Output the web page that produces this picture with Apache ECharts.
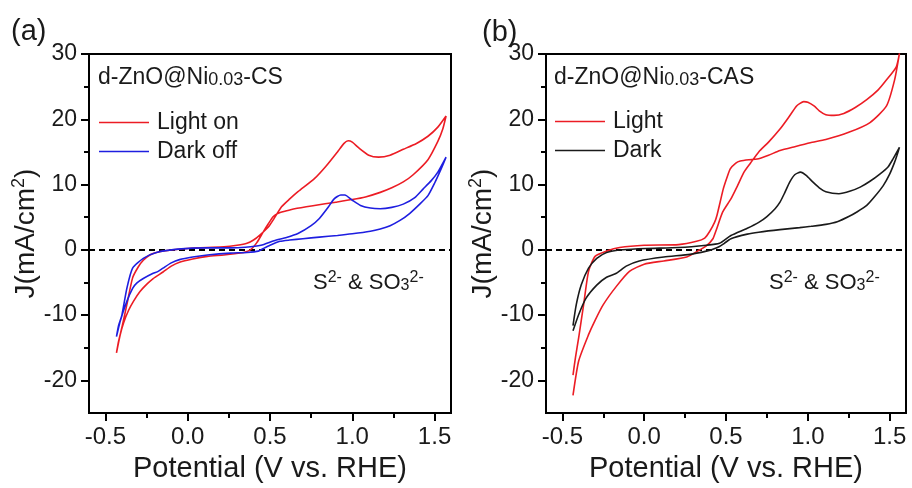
<!DOCTYPE html>
<html>
<head>
<meta charset="utf-8">
<script src="https://cdn.jsdelivr.net/npm/echarts@6/dist/echarts.min.js"></script>
<style>
  html, body { margin: 0; padding: 0; background: #fff; }
  #chart { width: 912px; height: 488px; }
</style>
</head>
<body>
<div id="chart"></div>
<script>
// Cyclic voltammograms: potential (V vs. RHE) and current density J (mA/cm2)

// (a) d-ZnO@Ni0.03-CS, light on
const aLightV = [-0.433,-0.42,-0.40,-0.37,-0.335,-0.30,-0.27,-0.23,-0.19,-0.09,0.0,0.12,0.22,0.30,0.36,0.40,0.44,0.49,0.53,0.57,0.62,0.67,0.77,0.84,0.91,0.95,0.975,1.0,1.04,1.10,1.16,1.23,1.31,1.39,1.46,1.52,1.57,
  1.55,1.52,1.46,1.37,1.31,1.24,1.17,1.08,1.0,0.90,0.77,0.65,0.59,0.55,0.52,0.49,0.46,0.42,0.38,0.32,0.22,0.12,0.03,-0.05,-0.10,-0.15,-0.21,-0.25,-0.29,-0.33,-0.36,-0.39,-0.41,-0.433];
const aLightJ = [-15.8,-14.0,-11.9,-8.4,-4.3,-2.6,-1.6,-0.8,-0.4,0.0,0.2,0.35,0.45,0.7,1.0,1.5,2.3,3.5,5.0,6.6,7.8,8.9,10.9,12.8,15.0,16.3,16.7,16.5,15.6,14.5,14.2,14.5,15.4,16.3,17.4,18.8,20.5,
  18.5,16.6,13.8,11.5,10.4,9.5,8.8,8.1,7.7,7.3,6.8,6.3,5.9,5.6,5.1,4.0,2.8,1.1,0.0,-0.5,-0.8,-1.0,-1.4,-1.9,-2.5,-3.4,-4.4,-5.3,-6.4,-7.9,-9.3,-11.2,-13.0,-15.8];

// (a) d-ZnO@Ni0.03-CS, dark
const aDarkV = [-0.433,-0.42,-0.40,-0.37,-0.335,-0.27,-0.19,-0.06,0.12,0.26,0.35,0.445,0.525,0.60,0.67,0.75,0.80,0.85,0.89,0.93,0.955,1.0,1.05,1.11,1.17,1.24,1.31,1.38,1.43,1.48,1.52,1.57,
  1.54,1.50,1.46,1.41,1.35,1.29,1.23,1.17,1.11,1.0,0.91,0.80,0.70,0.62,0.56,0.50,0.46,0.43,0.36,0.26,0.12,0.03,-0.05,-0.10,-0.15,-0.18,-0.21,-0.27,-0.31,-0.335,-0.37,-0.41,-0.433];
const aDarkJ = [-13.3,-11.6,-10.0,-5.9,-2.8,-1.3,-0.4,0.1,0.3,0.3,0.4,0.7,1.4,1.9,2.5,3.7,4.8,6.4,7.8,8.4,8.4,7.6,6.8,6.4,6.3,6.5,7.0,8.0,9.3,10.6,11.9,14.2,
  12.4,10.2,8.3,7.0,5.6,4.5,3.7,3.2,2.85,2.45,2.2,1.95,1.7,1.5,1.3,0.7,0.2,-0.2,-0.4,-0.5,-0.8,-1.1,-1.5,-2.0,-2.8,-3.3,-3.6,-4.4,-5.1,-5.9,-7.9,-10.9,-13.3];

// (b) d-ZnO@Ni0.03-CAS, light
const bLightV = [-0.435,-0.42,-0.40,-0.37,-0.34,-0.30,-0.23,-0.15,0.0,0.21,0.32,0.37,0.40,0.43,0.445,0.465,0.483,0.505,0.526,0.56,0.587,0.64,0.69,0.76,0.83,0.92,1.015,1.11,1.25,1.38,1.48,1.53,1.56,
  1.54,1.48,1.43,1.36,1.29,1.22,1.16,1.11,1.07,1.04,1.0,0.975,0.95,0.93,0.88,0.83,0.76,0.70,0.65,0.61,0.57,0.53,0.48,0.44,0.42,0.38,0.34,0.26,0.12,0.0,-0.09,-0.17,-0.25,-0.30,-0.34,-0.40,-0.435];
const bLightJ = [-19.2,-16.5,-13.4,-8.4,-3.3,-1.0,-0.2,0.35,0.7,0.8,1.3,1.8,2.8,4.2,5.3,7.4,9.3,11.0,12.4,13.3,13.6,13.8,13.9,14.5,15.2,15.8,16.4,16.9,18.0,19.5,22.0,26.0,30.1,
  28.0,26.0,24.5,23.0,21.8,20.9,20.6,20.7,21.3,22.0,22.6,22.7,22.4,22.0,20.2,18.5,16.5,15.0,13.3,11.9,9.8,7.8,5.8,3.0,1.7,0.6,0.0,-1.1,-1.7,-2.2,-3.3,-5.6,-8.4,-10.8,-13.0,-17.0,-22.3];

// (b) d-ZnO@Ni0.03-CAS, dark
const bDarkV = [-0.435,-0.415,-0.385,-0.34,-0.29,-0.23,-0.13,0.01,0.21,0.38,0.46,0.53,0.63,0.70,0.75,0.80,0.83,0.86,0.89,0.92,0.955,0.99,1.03,1.07,1.11,1.19,1.26,1.32,1.38,1.44,1.49,1.52,1.56,
  1.545,1.53,1.50,1.46,1.41,1.36,1.30,1.25,1.18,1.11,1.02,0.95,0.83,0.70,0.63,0.53,0.49,0.46,0.42,0.38,0.28,0.12,-0.03,-0.11,-0.17,-0.23,-0.29,-0.355,-0.40,-0.435];
const bDarkJ = [-11.6,-8.4,-5.4,-2.8,-1.3,-0.4,0.0,0.2,0.35,0.7,1.0,2.2,3.3,4.2,5.1,6.3,7.3,8.8,10.4,11.5,11.9,11.4,10.4,9.5,8.9,8.6,9.0,9.6,10.5,11.6,12.7,13.9,15.7,
  14.5,13.4,11.6,9.8,8.2,6.8,5.8,5.1,4.3,3.9,3.6,3.4,3.1,2.7,2.4,1.7,1.0,0.5,0.1,-0.2,-0.7,-1.1,-1.7,-2.5,-3.6,-4.2,-5.4,-7.4,-9.9,-12.4];

// Axis ticks
const xMajorTicks = [-0.5, 0.0, 0.5, 1.0, 1.5];
const xMinorTicks = [-0.25, 0.25, 0.75, 1.25];
const yMajorTicks = [-20, -10, 0, 10, 20, 30];
const yMinorTicks = [-15, -5, 5, 15, 25];

const seriesNamesA = ['Light on', 'Dark off'];
const seriesNamesB = ['Light', 'Dark'];

const FONT = 'Liberation Sans, Arial, Helvetica, sans-serif';
const INK = '#1a1a1a';
const RED = '#ec1c24';
const BLUE = '#1e1ee0';
const BLACK = '#1a1a1a';

function zip(v, j) { return v.map((x, i) => [x, j[i]]); }

const grids = [
  { left: 89, top: 54, width: 362, height: 361 },
  { left: 546, top: 54, width: 360, height: 361 }
];

function xAxesFor(gi) {
  return [
    {
      type: 'value', gridIndex: gi, position: 'bottom', min: -0.6, max: 1.6,
      name: 'Potential (V vs. RHE)', nameLocation: 'middle', nameGap: 41,
      nameTextStyle: { fontFamily: FONT, fontSize: 29, color: INK },
      axisLine: { show: true, onZero: false, lineStyle: { color: '#000', width: 2 } },
      axisTick: { show: true, inside: false, length: 8, customValues: xMajorTicks, lineStyle: { color: '#000', width: 2 } },
      axisLabel: { show: true, margin: 12, customValues: xMajorTicks, fontFamily: FONT, fontSize: 24, color: INK,
        formatter: v => v.toFixed(1) },
      splitLine: { show: false }
    },
    {
      type: 'value', gridIndex: gi, position: 'bottom', min: -0.6, max: 1.6,
      axisLine: { show: false, onZero: false },
      axisTick: { show: true, inside: false, length: 5, customValues: xMinorTicks, lineStyle: { color: '#000', width: 2 } },
      axisLabel: { show: false },
      splitLine: { show: false }
    }
  ];
}

function yAxesFor(gi) {
  return [
    {
      type: 'value', gridIndex: gi, position: 'left', min: -25, max: 30,
      name: '{t|J(mA/cm}{s|2}{t|)}', nameLocation: 'middle', nameGap: 38,
      nameTextStyle: { fontFamily: FONT, fontSize: 28, color: INK,
        rich: {
          t: { fontFamily: FONT, fontSize: 28, color: INK, verticalAlign: 'bottom', lineHeight: 30 },
          s: { fontFamily: FONT, fontSize: 18, color: INK, verticalAlign: 'top', lineHeight: 30 }
        } },
      axisLine: { show: true, onZero: false, lineStyle: { color: '#000', width: 2 } },
      axisTick: { show: true, inside: false, length: 8, customValues: yMajorTicks, lineStyle: { color: '#000', width: 2 } },
      axisLabel: { show: true, margin: 12, customValues: yMajorTicks, fontFamily: FONT, fontSize: 23, color: INK },
      splitLine: { show: false }
    },
    {
      type: 'value', gridIndex: gi, position: 'left', min: -25, max: 30,
      axisLine: { show: false, onZero: false },
      axisTick: { show: true, inside: false, length: 5, customValues: yMinorTicks, lineStyle: { color: '#000', width: 2 } },
      axisLabel: { show: false },
      splitLine: { show: false }
    }
  ];
}

function curve(name, v, j, color, xi, yi, withZero) {
  const s = {
    name: name, type: 'line', xAxisIndex: xi, yAxisIndex: yi,
    data: zip(v, j), symbol: 'none', smooth: 0.2, clip: false,
    lineStyle: { color: color, width: 1.6 }, itemStyle: { color: color },
    z: 3
  };
  if (withZero) {
    s.markLine = {
      silent: true, symbol: 'none', label: { show: false },
      lineStyle: { color: '#000', width: 1.8, type: [6, 4] },
      data: [{ yAxis: 0 }], z: 2
    };
  }
  return s;
}

const chart = echarts.init(document.getElementById('chart'), null, { renderer: 'canvas' });

function legendAt(left, top, names) {
  return {
    left: left, top: top, data: names,
    orient: 'vertical', icon: 'rect', itemWidth: 50, itemHeight: 1.6, itemGap: 6,
    selectedMode: false, padding: 0,
    textStyle: { fontFamily: FONT, fontSize: 23, color: INK, padding: [0, 0, 0, 3] }
  };
}

const richAnno = {
  m: { fontFamily: FONT, fontSize: 23, fill: INK, verticalAlign: 'bottom', lineHeight: 26 },
  sub: { fontFamily: FONT, fontSize: 18, fill: INK, verticalAlign: 'bottom', lineHeight: 26 }
};
const richIon = {
  m: { fontFamily: FONT, fontSize: 22, fill: INK, verticalAlign: 'bottom', lineHeight: 24 },
  sup: { fontFamily: FONT, fontSize: 16, fill: INK, verticalAlign: 'top', lineHeight: 24 },
  sub: { fontFamily: FONT, fontSize: 16, fill: INK, verticalAlign: 'bottom', lineHeight: 22 }
};

function txt(x, y, text, rich) {
  return {
    type: 'text', left: x, top: y, z: 10, silent: true,
    style: { text: text, rich: rich, fill: INK, font: '22px ' + FONT }
  };
}

chart.setOption({
  animation: false,
  backgroundColor: '#fff',
  grid: grids.map(g => Object.assign({ show: true, borderColor: '#000', borderWidth: 2, backgroundColor: 'transparent', containLabel: false }, g)),
  xAxis: xAxesFor(0).concat(xAxesFor(1)),
  yAxis: yAxesFor(0).concat(yAxesFor(1)),
  legend: [
    legendAt(99, 111, seriesNamesA),
    legendAt(555, 110, seriesNamesB)
  ],
  series: [
    curve(seriesNamesA[0], aLightV, aLightJ, RED, 0, 0, true),
    curve(seriesNamesA[1], aDarkV, aDarkJ, BLUE, 0, 0, false),
    curve(seriesNamesB[0], bLightV, bLightJ, RED, 2, 2, true),
    curve(seriesNamesB[1], bDarkV, bDarkJ, BLACK, 2, 2, false)
  ],
  graphic: [
    { type: 'text', left: 11, top: 17, style: { text: '(a)', font: '29px ' + FONT, fill: INK } },
    { type: 'text', left: 482, top: 18, style: { text: '(b)', font: '29px ' + FONT, fill: INK } },
    txt(98, 66, '{m|d-ZnO@Ni}{sub|0.03}{m|-CS}', richAnno),
    txt(554, 66, '{m|d-ZnO@Ni}{sub|0.03}{m|-CAS}', richAnno),
    txt(313, 270, '{m|S}{sup|2-}{m| & SO}{sub|3}{sup|2-}', richIon),
    txt(769, 270, '{m|S}{sup|2-}{m| & SO}{sub|3}{sup|2-}', richIon)
  ]
});
</script>
</body>
</html>
